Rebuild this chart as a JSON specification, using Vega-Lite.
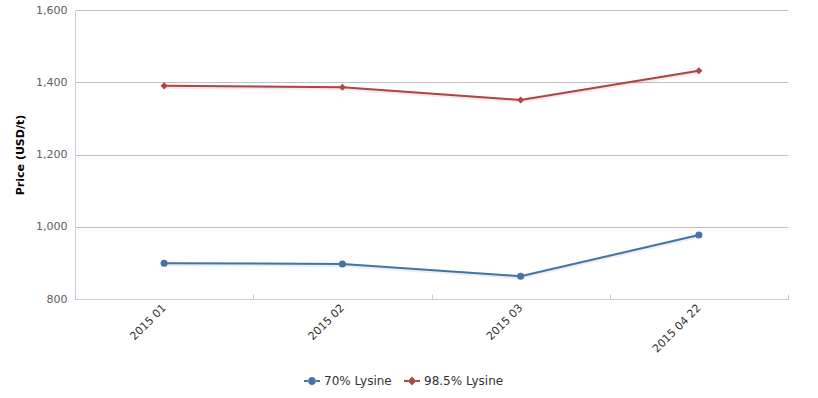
{
  "$schema": "https://vega.github.io/schema/vega-lite/v6.json",
  "width": 713,
  "height": 289,
  "autosize": "none",
  "padding": {"left": 75, "top": 10, "right": 30, "bottom": 99},
  "background": "white",
  "data": {"values": [
    {"period": "2015 01", "series": "70% Lysine", "price": 899},
    {"period": "2015 02", "series": "70% Lysine", "price": 897},
    {"period": "2015 03", "series": "70% Lysine", "price": 863},
    {"period": "2015 04 22", "series": "70% Lysine", "price": 977},
    {"period": "2015 01", "series": "98.5% Lysine", "price": 1390},
    {"period": "2015 02", "series": "98.5% Lysine", "price": 1386},
    {"period": "2015 03", "series": "98.5% Lysine", "price": 1351},
    {"period": "2015 04 22", "series": "98.5% Lysine", "price": 1432}
  ]},
  "config": {
    "view": {"stroke": null},
    "font": "DejaVu Sans"
  },
  "encoding": {
    "x": {
      "field": "period", "type": "ordinal", "sort": null,
      "scale": {"type": "band", "paddingInner": 0, "paddingOuter": 0},
      "axis": {
        "title": null, "labelAngle": -45, "labelAlign": "right", "labelBaseline": "middle",
        "labelFontSize": 11, "labelColor": "#333333", "labelPadding": 12,
        "domainColor": "#C0D0E0", "tickColor": "#C0D0E0", "tickBand": "extent", "tickSize": -5,
        "grid": false
      }
    },
    "y": {
      "field": "price", "type": "quantitative",
      "scale": {"domain": [800, 1600], "nice": false, "zero": false},
      "axis": {
        "title": "Price (USD/t)", "titleFontWeight": "bold", "titleFontSize": 11, "titleColor": "#000000",
        "titlePadding": 10,
        "values": [800, 1000, 1200, 1400, 1600], "format": ",.0f",
        "labelFontSize": 11, "labelColor": "#606060", "labelPadding": 8,
        "ticks": false, "domainColor": "#C0D0E0", "gridColor": "#C0C0C0"
      }
    },
    "color": {
      "field": "series", "type": "nominal",
      "scale": {"domain": ["70% Lysine", "98.5% Lysine"], "range": ["#4572A7", "#AA4643"]},
      "legend": {
        "title": null, "orient": "none", "legendX": 229, "legendY": 363, "direction": "horizontal",
        "labelFontSize": 12, "labelColor": "#333333", "columnPadding": 12, "symbolOffset": 0,
        "encode": {
          "symbols": {"update": {
            "shape": {"signal": "datum.value === '70% Lysine' ? 'M-1,-0.125L-0.45,-0.125L-0.45,0.125L-1,0.125Z M0.45,-0.125L1,-0.125L1,0.125L0.45,0.125Z M-0.5,0A0.5,0.5 0 1,0 0.5,0A0.5,0.5 0 1,0 -0.5,0Z' : 'M-1,-0.125L-0.45,-0.125L-0.45,0.125L-1,0.125Z M0.45,-0.125L1,-0.125L1,0.125L0.45,0.125Z M0,-0.55L0.5,0L0,0.55L-0.5,0Z'"},
            "size": {"value": 256},
            "fill": {"signal": "datum.value === '70% Lysine' ? '#4572A7' : '#AA4643'"},
            "strokeWidth": {"value": 0},
            "opacity": {"value": 1}
          }}
        }
      }
    }
  },
  "layer": [
    {"mark": {"type": "line", "strokeWidth": 4, "opacity": 0.12, "yOffset": 1}},
    {"mark": {"type": "line", "strokeWidth": 2}},
    {
      "transform": [{"filter": "datum.series === '70% Lysine'"}],
      "mark": {"type": "point", "shape": "circle", "filled": true, "opacity": 1, "size": 50}
    },
    {
      "transform": [{"filter": "datum.series === '98.5% Lysine'"}],
      "mark": {"type": "point", "shape": "diamond", "filled": true, "opacity": 1, "size": 50}
    }
  ]
}
